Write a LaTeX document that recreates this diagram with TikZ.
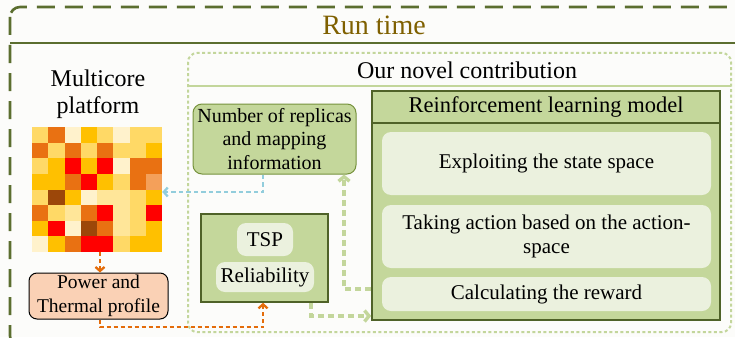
\documentclass[tikz,border=0pt]{standalone}
\usepackage{fontspec}
\setmainfont{Liberation Serif}
\usetikzlibrary{arrows.meta}
\definecolor{bgc}{RGB}{252,252,250}
\definecolor{olivedark}{HTML}{5B6E2F}
\definecolor{runtxt}{HTML}{7F6000}
\definecolor{lgreen}{HTML}{C3D69B}
\definecolor{gfill}{HTML}{C4D79B}
\definecolor{gborder}{HTML}{4F6228}
\definecolor{gborderl}{HTML}{76923C}
\definecolor{palefill}{HTML}{EBF1DE}
\definecolor{peach}{HTML}{FAD1B5}
\definecolor{orline}{HTML}{E46C0A}
\definecolor{blline}{HTML}{92CDDC}
\definecolor{hY}{HTML}{FFD966}
\definecolor{hO}{HTML}{E97112}
\definecolor{hC}{HTML}{FFF2CC}
\definecolor{hG}{HTML}{FFC000}
\definecolor{hR}{HTML}{FF0000}
\definecolor{hB}{HTML}{9C4709}
\definecolor{hS}{HTML}{F4A05A}
\definecolor{hP}{HTML}{FFE699}
\begin{document}
\begin{tikzpicture}[x=1pt,y=-1pt,
  txt/.style={inner sep=0pt, align=center},
  softbox/.style={fill=palefill, rounded corners=9pt, inner sep=0pt, align=center},
  orarrow/.style={draw=orline, line width=2.3pt, dash pattern=on 4pt off 3pt, -{Straight Barb[length=4pt,width=9pt]}},
  blarrow/.style={draw=blline, line width=2.3pt, dash pattern=on 4.5pt off 3pt, -{Straight Barb[length=4pt,width=9pt]}},
  grarrow/.style={draw=lgreen, line width=3.4pt, dash pattern=on 6pt off 4pt, -{Straight Barb[length=4.5pt,width=11pt]}}
]
\useasboundingbox[fill=bgc] (0,0) rectangle (735,337);

% outer run-time frame
\draw[olivedark, line width=2.6pt, dash pattern=on 18pt off 10pt, rounded corners=10pt] (10,7) rectangle (741,346);
\draw[olivedark, line width=1.1pt] (10,43) -- (736,43);
\node[txt, text=runtxt, font=\fontsize{28}{32}\selectfont] (rt) at (374,25) {Run time};

% novel contribution frame
\draw[lgreen, line width=2pt, dash pattern=on 3pt off 2.5pt, rounded corners=9pt] (188,53) rectangle (731,332);
\draw[lgreen, line width=1.8pt] (188,86) -- (731,86);
\node[txt, font=\fontsize{24}{27}\selectfont] (nov) at (467,70) {Our novel contribution};

% multicore platform
\node[txt, font=\fontsize{24}{27}\selectfont] (mc) at (98,94) {Multicore\\platform};
\node[inner sep=0pt, minimum width=130pt, minimum height=125pt] (hm) at (97,189.5) {};
\foreach \row [count=\r from 0] in {
  {hY,hO,hC,hG,hY,hC,hY,hY},
  {hO,hY,hO,hY,hO,hY,hY,hG},
  {hY,hG,hR,hG,hR,hC,hO,hO},
  {hG,hG,hO,hR,hG,hY,hO,hS},
  {hY,hB,hG,hC,hP,hP,hY,hG},
  {hO,hY,hP,hO,hR,hP,hY,hR},
  {hG,hR,hC,hB,hO,hP,hY,hG},
  {hC,hG,hO,hR,hR,hY,hG,hG}}{
  \foreach \c [count=\k from 0] in \row {
    \fill[\c] (32+\k*16.25,127+\r*15.625) rectangle ++(16.55,15.925);
  }
}

% power and thermal profile
\node[txt, draw=black, line width=1pt, fill=peach, rounded corners=8pt,
  minimum width=139pt, minimum height=46pt, font=\fontsize{19.5}{24}\selectfont] (pw) at (98.5,296) {Power and\\Thermal profile};

% number of replicas
\node[txt, draw=gborderl, line width=1pt, fill=gfill, rounded corners=9pt,
  minimum width=163pt, minimum height=70pt, font=\fontsize{20}{23.5}\selectfont] (num) at (274.5,139) {Number of replicas\\and mapping\\information};

% TSP / reliability
\node[draw=gborder, line width=1.6pt, fill=gfill, minimum width=127pt, minimum height=88pt, inner sep=0pt] (tsp) at (264.5,258) {};
\node[softbox, minimum width=56pt, minimum height=33pt, font=\fontsize{21}{24}\selectfont] (tspn) at (265,239.5) {TSP};
\node[softbox, minimum width=98pt, minimum height=30pt, font=\fontsize{21}{24}\selectfont] (rel) at (265,277) {Reliability};

% RL model
\node[draw=gborder, line width=1.6pt, fill=gfill, minimum width=348pt, minimum height=229pt, inner sep=0pt] (rl) at (546,205.5) {};
\coordinate (hl) at (0,123);
\draw[gborder, line width=1.6pt] (rl.west |- hl) -- (rl.east |- hl);
\node[txt, font=\fontsize{22.5}{26}\selectfont] (rlh) at (546,107) {Reinforcement learning model};
\node[softbox, minimum width=329pt, minimum height=63pt, font=\fontsize{21}{23.5}\selectfont] (e1) at (546.5,163.5) {Exploiting the state space};
\node[softbox, minimum width=329pt, minimum height=63pt, font=\fontsize{21}{23.5}\selectfont] (e2) at (546.5,236.5) {Taking action based on the action-\\space};
\node[softbox, minimum width=329pt, minimum height=34pt, font=\fontsize{21}{23.5}\selectfont] (e3) at (546.5,294) {Calculating the reward};

% connectors
\coordinate (xo) at (100,0);
\coordinate (xb) at (263,0);
\coordinate (xg) at (344,0);
\coordinate (xt) at (311,0);
\coordinate (yo) at (0,327);
\coordinate (yb) at (0,192);
\coordinate (yg) at (0,289);
\coordinate (yt) at (0,316);
\draw[orarrow] (hm.south -| xo) -- (pw.north -| xo);
\draw[orarrow] (pw.south -| xo) |- (yo -| xb) -- (tsp.south -| xb);
\draw[blarrow] (num.south -| xb) |- (hm.east |- yb);
\draw[grarrow] (rl.west |- yg) -| (num.south -| xg);
\draw[grarrow] (tsp.south -| xt) |- (rl.west |- yt);
\end{tikzpicture}
\end{document}
